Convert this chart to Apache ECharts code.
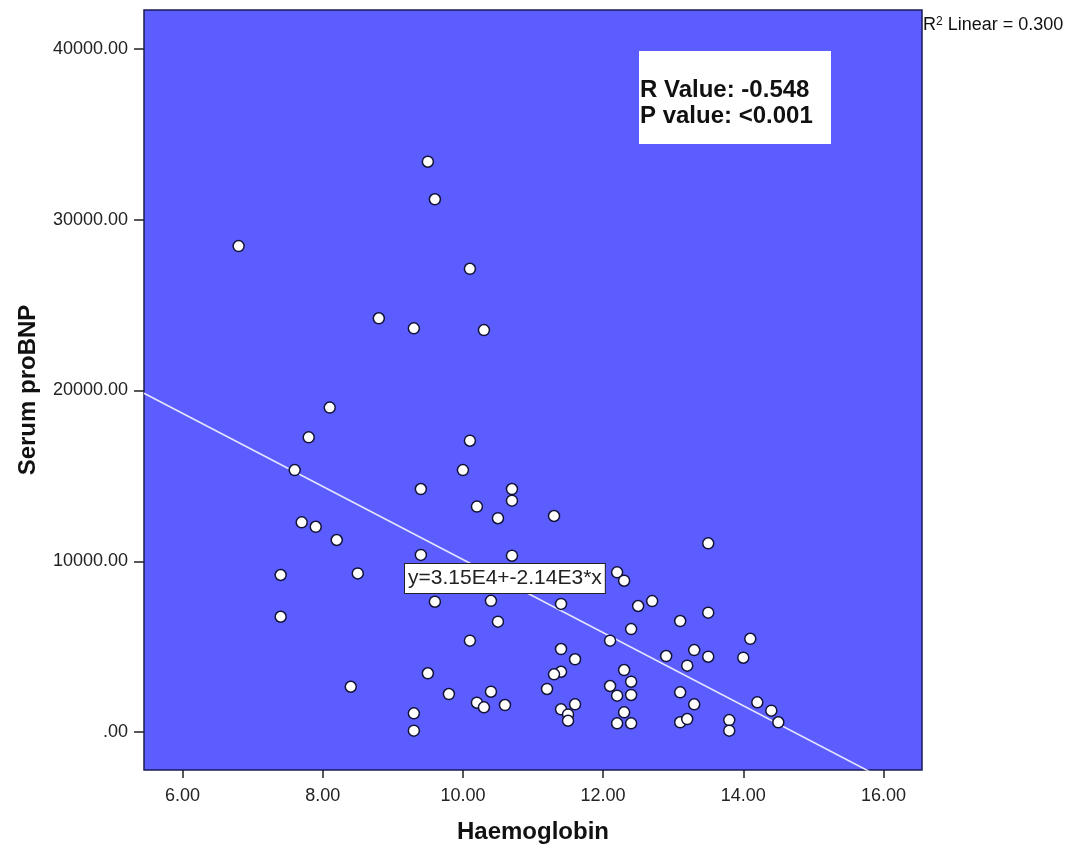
<!DOCTYPE html>
<html>
<head>
<meta charset="utf-8">
<script src="https://cdn.jsdelivr.net/npm/echarts@6/dist/echarts.min.js"></script>
<style>
html,body{margin:0;padding:0;background:#fff;}
#chart{width:1080px;height:853px;}
</style>
</head>
<body>
<div id="chart"></div>
<script>
// Haemoglobin (x) values
const haemoglobin = [
  9.5, 9.6, 6.8, 10.1, 8.8, 9.3, 10.3,
  8.1, 7.8, 10.1, 7.6, 10.0, 9.4, 10.7, 10.7, 10.2, 10.5, 7.7, 7.9, 8.2,
  9.4, 10.7, 7.4, 8.5, 7.4, 9.6, 10.4, 10.5, 10.1, 9.5, 8.4, 9.8, 10.4,
  10.2, 10.3, 10.6, 9.3, 9.3,
  11.3, 13.5, 12.2, 12.3, 11.4, 12.7, 12.5, 13.5, 13.1, 12.4, 14.1, 12.1,
  11.4, 13.3, 11.6, 12.9, 13.5, 14.0, 13.2, 12.3, 11.4, 11.3, 12.4, 11.2,
  12.1, 13.1, 12.2, 12.4, 11.4, 11.6, 11.5, 11.5, 13.3, 14.2, 12.3, 12.2,
  12.4, 13.1, 13.2, 13.8, 13.8, 14.4, 14.5
];
// Serum proBNP (y) values
const serumProBNP = [
  33400, 31200, 28460, 27130, 24230, 23640, 23540,
  19000, 17260, 17060, 15340, 15340, 14230, 14230, 13550, 13200, 12520, 12280, 12020, 11245,
  10370, 10325, 9195, 9290, 6750, 7630, 7680, 6460, 5350, 3440, 2650, 2225, 2360,
  1715, 1445, 1580, 1095, 80,
  12650, 11050, 9350, 8860, 7500, 7670, 7380, 6990, 6500, 6030, 5460, 5350,
  4860, 4800, 4260, 4450, 4410, 4350, 3885, 3630, 3530, 3380, 2945, 2520,
  2695, 2325, 2130, 2170, 1330, 1620, 1030, 660, 1620, 1740, 1150, 510,
  510, 570, 760, 700, 80, 1250, 570
];
// Axis ticks
const xTicks = [6, 8, 10, 12, 14, 16];
const yTicks = [0, 10000, 20000, 30000, 40000];
const xRange = [5.45, 16.55];
const yRange = [-2225, 42285];
// Linear fit shown in the chart
const fitIntercept = 31500;
const fitSlope = -2140;
const fitLabel = 'y=3.15E4+-2.14E3*x';
const r2Label = '0.300';
const statLines = ['R Value: -0.548', 'P value: <0.001'];

const points = haemoglobin.map((x, i) => [x, serumProBNP[i]]);
const fitLine = xRange.map(x => [x, fitIntercept + fitSlope * x]);

const chart = echarts.init(document.getElementById('chart'));
const labelFont = 'Liberation Sans, Arial, sans-serif';
chart.setOption({
  animation: false,
  backgroundColor: '#ffffff',
  grid: {
    left: 144, top: 10, right: 158, bottom: 83,
    show: true, backgroundColor: '#5b5dff', borderColor: '#1b1b55', borderWidth: 1.5
  },
  xAxis: {
    type: 'value', min: xRange[0], max: xRange[1],
    name: 'Haemoglobin', nameLocation: 'middle', nameGap: 50,
    nameTextStyle: { fontFamily: labelFont, fontWeight: 'bold', fontSize: 24, color: '#111' },
    axisLine: { show: false, onZero: false },
    axisTick: { show: true, length: 8, customValues: xTicks, lineStyle: { color: '#222', width: 1.5 } },
    axisLabel: { customValues: xTicks, formatter: v => v.toFixed(2), fontFamily: labelFont, fontSize: 18, color: '#222', margin: 17 },
    splitLine: { show: false }
  },
  yAxis: {
    type: 'value', min: yRange[0], max: yRange[1],
    name: 'Serum proBNP', nameLocation: 'middle', nameGap: 104, nameRotate: 90,
    nameTextStyle: { fontFamily: labelFont, fontWeight: 'bold', fontSize: 24, color: '#111' },
    axisLine: { show: false, onZero: false },
    axisTick: { show: true, length: 10, customValues: yTicks, lineStyle: { color: '#222', width: 1.5 } },
    axisLabel: { customValues: yTicks, formatter: v => v === 0 ? '.00' : v.toFixed(2), fontFamily: labelFont, fontSize: 18, color: '#222', margin: 16 },
    splitLine: { show: false }
  },
  series: [
    {
      type: 'line', data: fitLine, symbol: 'none', clip: true, z: 2,
      lineStyle: { color: '#e6e6ff', width: 1.6 }, silent: true
    },
    {
      type: 'scatter', data: points, symbol: 'circle', symbolSize: 11, z: 3,
      itemStyle: { color: '#ffffff', borderColor: '#121236', borderWidth: 1.5, opacity: 1 }
    }
  ],
  graphic: [
    {
      type: 'group', left: 639, top: 51, z: 10,
      children: [
        { type: 'rect', shape: { x: 0, y: 0, width: 192, height: 93 }, style: { fill: '#ffffff' } },
        { type: 'text', x: 1, y: 26, style: { text: statLines.join('\n'), font: 'bold 24px ' + labelFont, fill: '#111', lineHeight: 26 } }
      ]
    },
    {
      type: 'text', left: 404, top: 563, z: 10,
      style: {
        text: fitLabel, font: '21px ' + labelFont, fill: '#222',
        backgroundColor: '#ffffff', borderColor: '#222', borderWidth: 1,
        padding: [4, 3, 4, 3]
      }
    },
    {
      type: 'text', left: 923, top: 16, z: 10,
      style: {
        text: '{b|R}{s|2}{b| Linear = ' + r2Label + '}',
        rich: {
          b: { font: '18px ' + labelFont, fill: '#111', verticalAlign: 'bottom' },
          s: { font: '12px ' + labelFont, fill: '#111', verticalAlign: 'top', padding: [0, 0, 6, 0] }
        }
      }
    }
  ]
});
</script>
</body>
</html>
